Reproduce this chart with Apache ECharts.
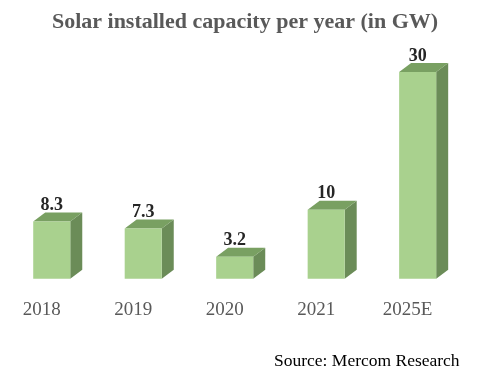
<!DOCTYPE html>
<html>
<head>
<meta charset="utf-8">
<script src="https://cdn.jsdelivr.net/npm/echarts@6/dist/echarts.min.js"></script>
<style>html,body{margin:0;padding:0;background:#fff;}#c{width:492px;height:383px;}</style>
</head>
<body>
<div id="c"></div>
<script>
var categories = ['2018', '2019', '2020', '2021', '2025E'];
var values = [8.3, 7.3, 3.2, 10, 30];
var valueLabels = ['8.3', '7.3', '3.2', '10', '30'];
var titleText = 'Solar installed capacity per year (in GW)';
var sourceText = 'Source: Mercom Research';

var chart = echarts.init(document.getElementById('c'));
var DX = 12, DY = 9;
var serif = '"Liberation Serif", "Times New Roman", serif';

function renderItem(params, api) {
  var idx = api.value(0);
  var val = api.value(1);
  var base = api.coord([idx, 0]);
  var top = api.coord([idx, val]);
  var bw = api.size([1, 0])[0] * 0.405;
  var x0 = base[0] - bw / 2, x1 = base[0] + bw / 2;
  var yb = base[1], yt = top[1];
  return {
    type: 'group',
    children: [
      { type: 'polygon', shape: { points: [[x1, yt], [x1 + DX, yt - DY], [x1 + DX, yb - DY], [x1, yb]] },
        style: { fill: '#6b8c58' } },
      { type: 'polygon', shape: { points: [[x0, yt], [x0 + DX, yt - DY], [x1 + DX, yt - DY], [x1, yt]] },
        style: { fill: '#79a062' } },
      { type: 'rect', shape: { x: x0, y: yt, width: bw, height: yb - yt },
        style: { fill: '#a9d18e' } },
      { type: 'text', x: base[0], y: yt - DY + 2,
        style: { text: valueLabels[params.dataIndex], font: 'bold 18px ' + serif, fill: '#262626',
                 align: 'center', verticalAlign: 'bottom' } }
    ]
  };
}

chart.setOption({
  animation: false,
  title: {
    text: titleText, left: 240, top: 6, textAlign: 'center',
    textStyle: { fontFamily: serif, fontWeight: 'bold', fontSize: 22, color: '#595959' }
  },
  graphic: [{
    type: 'text', left: 274, top: 352,
    style: { text: sourceText, font: '17.5px ' + serif, fill: '#000' }
  }],
  grid: { left: 6, right: 28.6, top: 72, bottom: 104.3 },
  xAxis: {
    type: 'category', data: categories,
    axisLine: { show: false }, axisTick: { show: false },
    axisLabel: { fontFamily: serif, fontSize: 19, color: '#595959', margin: 22, padding: [0, 20, 0, 0] }
  },
  yAxis: { type: 'value', min: 0, max: 30, show: false, splitLine: { show: false } },
  series: [{
    type: 'custom', renderItem: renderItem, clip: false,
    data: values.map(function (v, i) { return [i, v]; })
  }]
});
</script>
</body>
</html>
